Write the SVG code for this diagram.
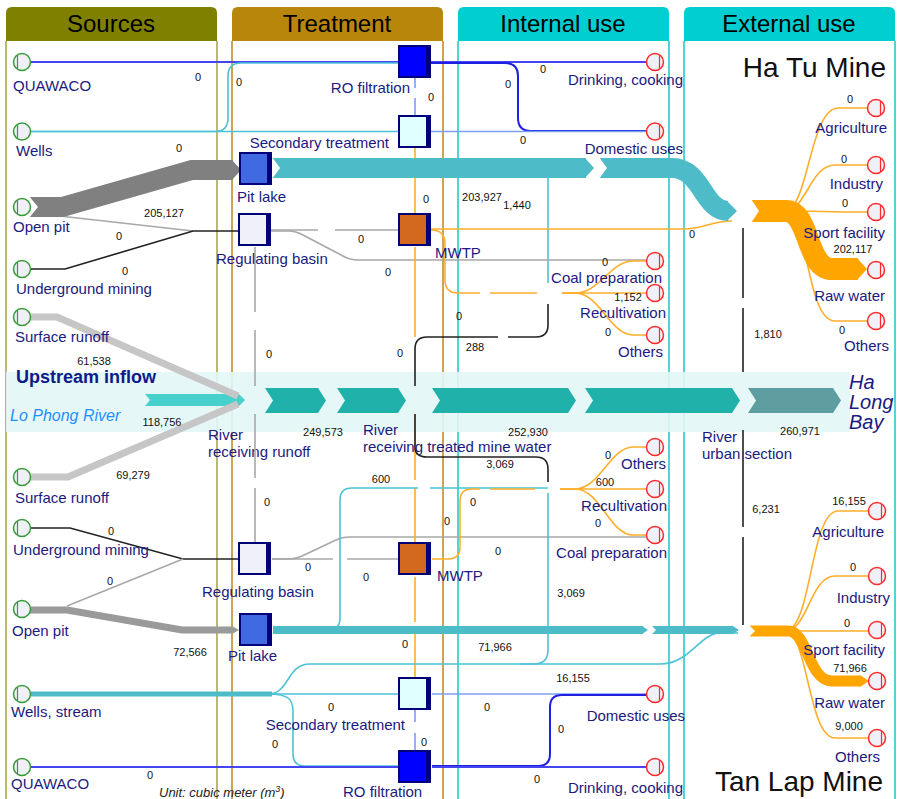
<svg xmlns="http://www.w3.org/2000/svg" width="897" height="799" viewBox="0 0 897 799">
<defs>
<style>
text{font-family:"Liberation Sans",Arial,sans-serif}
.hdr{font-size:24px;fill:#000;text-anchor:middle}
.lbl{font-size:15px;fill:#1a1a80}
.end{text-anchor:end}
.num{font-size:11px;fill:#111;text-anchor:middle}
.mine{font-size:28px;fill:#111;text-anchor:end}
.src circle{fill:#f0f0f8;stroke:#3a9a3a;stroke-width:1.5}
.src line{stroke:#3a9a3a;stroke-width:1.2}
.snk circle{fill:#f0f0f8;stroke:#ff2a2a;stroke-width:1.5}
.snk line{stroke:#ff2a2a;stroke-width:1.2}
.box{stroke:#00007a;stroke-width:2}
.bar{fill:#00007a}
#connectors path{fill:none}
.blue{stroke:#4444f0;stroke-width:2}
.dblue{stroke:#2020e0;stroke-width:2}
.lblue{stroke:#7c9ef2;stroke-width:1.6}
.cyan{stroke:#4cc2d6;stroke-width:1.6}
.org{stroke:#ffae2a;stroke-width:1.6}
.gray{stroke:#a8a8a8;stroke-width:1.6}
.blk{stroke:#222;stroke-width:1.6}
.teal{stroke:#4dbcc8}
.wht{fill:#fff}
.chev{fill:#20b2aa}
</style>
</defs>
<rect width="897" height="799" fill="#fff"/>

<g id="columns">
<path d="M6,41 L6,13 Q6,7 12,7 L211,7 Q217,7 217,13 L217,41 Z" fill="#808000"/>
<path d="M232,41 L232,13 Q232,7 238,7 L437,7 Q443,7 443,13 L443,41 Z" fill="#b8860b"/>
<path d="M458,41 L458,13 Q458,7 464,7 L663,7 Q669,7 669,13 L669,41 Z" fill="#00ced1"/>
<path d="M684,41 L684,13 Q684,7 690,7 L889,7 Q895,7 895,13 L895,41 Z" fill="#00ced1"/>
<g stroke-width="2">
<line x1="6" y1="41" x2="6" y2="799" stroke="#bdb870"/>
<line x1="217" y1="41" x2="217" y2="799" stroke="#bdb870"/>
<line x1="232" y1="41" x2="232" y2="799" stroke="#cda455"/>
<line x1="443" y1="41" x2="443" y2="799" stroke="#cda455"/>
<line x1="458" y1="41" x2="458" y2="799" stroke="#52d4d6"/>
<line x1="669" y1="41" x2="669" y2="799" stroke="#52d4d6"/>
<line x1="684" y1="41" x2="684" y2="799" stroke="#52d4d6"/>
<line x1="895" y1="41" x2="895" y2="799" stroke="#52d4d6"/>
</g>
<text class="hdr" x="111" y="32">Sources</text>
<text class="hdr" x="337" y="32">Treatment</text>
<text class="hdr" x="563" y="32">Internal use</text>
<text class="hdr" x="789" y="32">External use</text>
</g>

<g id="river">
<rect x="6" y="372" width="844" height="60" fill="#e2f6f6" opacity="0.9"/>
<polygon points="145,394 239,394 245,400 239,406 145,406 150,400" fill="#48d1cc"/>
<polygon class="chev" points="265,388 318,388 326,400.5 318,413 265,413 273,400.5"/>
<polygon class="chev" points="337,388 398,388 406,400.5 398,413 337,413 345,400.5"/>
<polygon class="chev" points="432,388 568,388 576,400.5 568,413 432,413 440,400.5"/>
<polygon class="chev" points="585,388 732,388 740,400.5 732,413 585,413 593,400.5"/>
<polygon points="748,388 833,388 841,400.5 833,413 748,413 756,400.5" fill="#5f9ea0"/>
<text x="16" y="383" font-size="18" font-weight="bold" fill="#0c1a8a">Upstream inflow</text>
<text x="10" y="421" font-size="16" font-style="italic" fill="#1e90ff">Lo Phong River</text>
<text x="849" y="389" font-size="20" font-style="italic" fill="#1a1a80">Ha</text>
<text x="849" y="409" font-size="20" font-style="italic" fill="#1a1a80">Long</text>
<text x="849" y="429" font-size="20" font-style="italic" fill="#1a1a80">Bay</text>
<text class="lbl" x="208" y="440">River</text>
<text class="lbl" x="208" y="457">receiving runoff</text>
<text class="lbl" x="363" y="435">River</text>
<text class="lbl" x="363" y="452">receiving treated mine water</text>
<text class="lbl" x="702" y="442">River</text>
<text class="lbl" x="702" y="459">urban section</text>
</g>

<g id="connectors">
<!-- Ha Tu thin lines -->
<path class="blue" d="M30,62 L399,62"/>
<path class="cyan" d="M30,131.5 L215,131.5 Q228,131.5 228,118 L228,76 Q228,63 241,63 L399,63"/>
<path class="cyan" d="M30,131.5 L399,131.5"/>
<path class="blue" d="M431,62 L647,62"/>
<path class="dblue" d="M431,63 L505,63 Q518,63 518,76 L518,118 Q518,131 531,131 L647,131"/>
<path class="lblue" d="M431,131.5 L647,131.5"/>
<path class="lblue" d="M415,78 L415,88 M415,98 L415,116"/>
<path class="org" d="M415,148 L415,214"/>
<path class="cyan" d="M548,178 L548,283"/>
<path class="gray" d="M33,213 L193,231"/>
<path class="blk" d="M30,269 L65,269 L193,231 L238,231"/>
<path class="gray" d="M271,230 L318,230 M335,230 L398,230"/>
<path class="gray" d="M271,231 L288,231 Q296,231 303,235 L343,256 Q350,260 358,260 L647,260"/>
<path class="gray" d="M255,247 L255,312 M255,330 L255,386"/>
<path class="org" d="M415,247 L415,337"/>
<path class="blk" d="M548,304 L548,325 Q548,337 536,337 L508,337 M498,337 L427,337 Q415,337 415,349 L415,386"/>
<path class="org" d="M431,229 L683,229 C705,229 710,221 732,221"/>
<path class="org" d="M431,230 Q445,230 445,244 L445,280 Q445,293 458,293 L480,293 M490,293 L537,293 M562,293 L580,293"/>
<path class="org" stroke-width="3" d="M562,293 L578,293"/>
<path class="org" d="M575,293 C600,293 610,261 633,261 L647,261 M575,293 L647,293 M575,293 C600,293 610,335 633,335 L647,335"/>
<path class="blk" d="M743,228 L743,298 M743,308 L743,372"/>
<path class="org" d="M785,211 C808,211 810,108 838,108 L867,108 M785,211 C806,211 810,165 835,165 L867,165 M785,211 C815,211 830,212 867,212 M785,211 C808,211 806,321 835,321 L867,321"/>
<!-- Ha Tu bands -->
<path d="M30,317 L57,317 L238,396" stroke="#c6c6c6" stroke-width="7"/>
<path d="M30,207 L62,207 L192,170 L233,170" stroke="#808080" stroke-width="20"/>
<polygon points="232,160 241,170 232,180" fill="#808080"/>
<polygon class="wht" points="29,196 38,207 29,218"/>
<path class="teal" d="M273,168 L586,168" stroke-width="20"/>
<polygon points="585,158 594,168 585,178" fill="#4dbcc8"/>
<polygon class="wht" points="272,157 280,168 272,179"/>
<path class="teal" d="M600,168 L672,168 C702,168 703,211 728,211" stroke-width="20"/>
<polygon class="wht" points="599,157 607,168 599,179"/>
<polygon points="727,201 737,211 727,221" fill="#4dbcc8"/>
<path d="M752,211 L786,211 C810,211 806,269 832,269 L858,269" stroke="#ffa500" stroke-width="22"/>
<polygon class="wht" points="751,199 759,211 751,223"/>
<polygon points="857,258 867,269 857,280" fill="#ffa500"/>

<!-- Tan Lap thin lines -->
<path class="blk" d="M30,528 L70,528 L183,559 L238,559"/>
<path class="gray" d="M67,606 L183,559"/>
<path class="gray" d="M255,543 L255,488 M255,478 L255,414"/>
<path class="gray" d="M272,559 L333,559 M347,559 L398,559"/>
<path class="gray" d="M272,559 L290,559 Q296,559 302,556 L336,540 Q342,537 350,537 L647,537"/>
<path class="org" d="M415,543 L415,488 M415,480 L415,414"/>
<path class="blk" d="M415,414 L415,447 Q415,457 427,457 L536,457 Q548,457 548,469 L548,482"/>
<path class="cyan" d="M548,493 L548,650 Q548,664 534,664 L520,664"/>
<path class="cyan" d="M273,630 L328,630 Q340,630 340,618 L340,500 Q340,488 352,488 L418,488 M430,488 L548,488"/>
<path class="org" d="M432,559 L448,559 Q460,559 460,547 L460,501 Q460,489 472,489 L480,489 M490,489 L535,489 M560,489 L580,489"/>
<path class="org" stroke-width="3" d="M560,489 L578,489"/>
<path class="org" d="M575,489 C600,489 610,447 633,447 L647,447 M575,489 L647,489 M575,489 C600,489 610,535 633,535 L647,535"/>
<path class="org" d="M415,577 L415,622 M415,633 L415,678"/>
<path class="lblue" d="M415,710 L415,722 M415,733 L415,751"/>
<path class="cyan" d="M270,694 L398,694"/>
<path class="cyan" d="M268,694 C290,694 286,664 310,664 L660,664 C690,664 700,633 720,633 L738,633"/>
<path class="cyan" d="M268,694 C290,694 293,700 293,712 L293,754 Q293,766 305,766 L399,766"/>
<path class="blue" d="M30,767 L399,767"/>
<path class="lblue" d="M432,694 L647,694"/>
<path class="dblue" d="M432,766 L538,766 Q550,766 550,754 L550,707 Q550,695 562,695 L647,695"/>
<path class="blue" d="M432,767 L647,767"/>
<path class="blk" d="M743,430 L743,527 M743,537 L743,625"/>
<path class="org" d="M785,631 C812,631 810,511 838,511 L868,511 M785,631 C808,631 810,576 835,576 L868,576 M785,631 L868,631 M785,631 C808,631 808,738 835,738 L868,738"/>
<!-- Tan Lap bands -->
<path d="M30,477 L68,477 L238,404" stroke="#c6c6c6" stroke-width="7"/>
<path d="M30,694 L272,694" stroke="#4dbcc8" stroke-width="5"/>
<path d="M30,610 L67,610 L182,630 L233,630" stroke="#9a9a9a" stroke-width="7"/>
<polygon points="232,626 239,630 232,634" fill="#9a9a9a"/>
<path class="teal" d="M273,630 L643,630" stroke-width="8"/>
<polygon points="642,626 648,630 642,634" fill="#4dbcc8"/>
<path class="teal" d="M652,630 L733,630" stroke-width="8"/>
<polygon class="wht" points="651,625 656,630 651,635"/>
<polygon points="732,625.5 739,630 732,634.5" fill="#4dbcc8"/>
<path d="M750,631 L788,631 C808,631 808,681 832,681 L861,681" stroke="#ffa500" stroke-width="11"/>
<polygon class="wht" points="749,625 755,631 749,637"/>
<polygon points="860,675 869,681 860,687" fill="#ffa500"/>
</g>

<!-- Sources -->
<g id="src-quawaco-ht" class="src"><circle cx="22" cy="62" r="8.5"/><line x1="17.5" y1="55" x2="17.5" y2="69"/><text class="lbl" x="13" y="91">QUAWACO</text></g>
<g id="src-wells-ht" class="src"><circle cx="22" cy="131.5" r="8.5"/><line x1="17.5" y1="124.5" x2="17.5" y2="138.5"/><text class="lbl" x="16" y="156">Wells</text></g>
<g id="src-openpit-ht" class="src"><circle cx="22" cy="207" r="8.5"/><line x1="17.5" y1="200" x2="17.5" y2="214"/><text class="lbl" x="13" y="232">Open pit</text></g>
<g id="src-underground-ht" class="src"><circle cx="22" cy="269" r="8.5"/><line x1="17.5" y1="262" x2="17.5" y2="276"/><text class="lbl" x="16" y="294">Underground mining</text></g>
<g id="src-runoff-ht" class="src"><circle cx="22" cy="317" r="8.5"/><line x1="17.5" y1="310" x2="17.5" y2="324"/><text class="lbl" x="15" y="342">Surface runoff</text></g>
<g id="src-runoff-tl" class="src"><circle cx="22" cy="477" r="8.5"/><line x1="17.5" y1="470" x2="17.5" y2="484"/><text class="lbl" x="15" y="503">Surface runoff</text></g>
<g id="src-underground-tl" class="src"><circle cx="22" cy="528" r="8.5"/><line x1="17.5" y1="521" x2="17.5" y2="535"/><text class="lbl" x="13" y="555">Underground mining</text></g>
<g id="src-openpit-tl" class="src"><circle cx="22" cy="609" r="8.5"/><line x1="17.5" y1="602" x2="17.5" y2="616"/><text class="lbl" x="12" y="636">Open pit</text></g>
<g id="src-wells-tl" class="src"><circle cx="22" cy="694" r="8.5"/><line x1="17.5" y1="687" x2="17.5" y2="701"/><text class="lbl" x="11" y="717">Wells, stream</text></g>
<g id="src-quawaco-tl" class="src"><circle cx="22" cy="767" r="8.5"/><line x1="17.5" y1="760" x2="17.5" y2="774"/><text class="lbl" x="11" y="789">QUAWACO</text></g>

<!-- Treatment -->
<g id="tr-ro-ht"><rect class="box" x="399" y="46" width="31" height="31" fill="#0000ff"/><rect class="bar" x="426" y="46" width="4" height="31"/><text class="lbl end" x="410" y="93">RO filtration</text></g>
<g id="tr-sec-ht"><rect class="box" x="399" y="116" width="31" height="31" fill="#e0ffff"/><rect class="bar" x="426" y="116" width="4" height="31"/><text class="lbl end" x="389" y="148">Secondary treatment</text></g>
<g id="tr-pit-ht"><rect class="box" x="240" y="153" width="31" height="31" fill="#4169e1"/><rect class="bar" x="267" y="153" width="4" height="31"/><text class="lbl" x="237" y="202">Pit lake</text></g>
<g id="tr-reg-ht"><rect class="box" x="239" y="214" width="31" height="31" fill="#f0f0fa"/><rect class="bar" x="266" y="214" width="4" height="31"/><text class="lbl" x="216" y="264">Regulating basin</text></g>
<g id="tr-mwtp-ht"><rect class="box" x="399" y="214" width="31" height="31" fill="#d2691e"/><rect class="bar" x="426" y="214" width="4" height="31"/><text class="lbl" x="435" y="258">MWTP</text></g>
<g id="tr-reg-tl"><rect class="box" x="239" y="543" width="31" height="31" fill="#f0f0fa"/><rect class="bar" x="266" y="543" width="4" height="31"/><text class="lbl" x="202" y="597">Regulating basin</text></g>
<g id="tr-mwtp-tl"><rect class="box" x="399" y="543" width="31" height="31" fill="#d2691e"/><rect class="bar" x="426" y="543" width="4" height="31"/><text class="lbl" x="437" y="581">MWTP</text></g>
<g id="tr-pit-tl"><rect class="box" x="240" y="614" width="31" height="31" fill="#4169e1"/><rect class="bar" x="267" y="614" width="4" height="31"/><text class="lbl" x="228" y="661">Pit lake</text></g>
<g id="tr-sec-tl"><rect class="box" x="399" y="678" width="31" height="31" fill="#e0ffff"/><rect class="bar" x="426" y="678" width="4" height="31"/><text class="lbl end" x="405" y="730">Secondary treatment</text></g>
<g id="tr-ro-tl"><rect class="box" x="399" y="751" width="31" height="31" fill="#0000ff"/><rect class="bar" x="426" y="751" width="4" height="31"/><text class="lbl" x="343" y="797">RO filtration</text></g>

<!-- Sinks -->
<g id="snk-drink-ht" class="snk"><circle cx="655" cy="62" r="8.5"/><line x1="659.5" y1="55" x2="659.5" y2="69"/><text class="lbl end" x="683" y="85">Drinking, cooking</text></g>
<g id="snk-domestic-ht" class="snk"><circle cx="655" cy="131.5" r="8.5"/><line x1="659.5" y1="124.5" x2="659.5" y2="138.5"/><text class="lbl end" x="683" y="154">Domestic uses</text></g>
<g id="snk-coal-ht" class="snk"><circle cx="655" cy="261" r="8.5"/><line x1="659.5" y1="254" x2="659.5" y2="268"/><text class="lbl end" x="662" y="283">Coal preparation</text></g>
<g id="snk-recult-ht" class="snk"><circle cx="655" cy="293" r="8.5"/><line x1="659.5" y1="286" x2="659.5" y2="300"/><text class="lbl end" x="666" y="318">Recultivation</text></g>
<g id="snk-others-ht" class="snk"><circle cx="655" cy="335" r="8.5"/><line x1="659.5" y1="328" x2="659.5" y2="342"/><text class="lbl end" x="663" y="357">Others</text></g>
<g id="snk-agri-ht" class="snk"><circle cx="876" cy="108" r="8.5"/><line x1="880.5" y1="101" x2="880.5" y2="115"/><text class="lbl end" x="887" y="133">Agriculture</text></g>
<g id="snk-ind-ht" class="snk"><circle cx="876" cy="165" r="8.5"/><line x1="880.5" y1="158" x2="880.5" y2="172"/><text class="lbl end" x="883" y="189">Industry</text></g>
<g id="snk-sport-ht" class="snk"><circle cx="876" cy="212" r="8.5"/><line x1="880.5" y1="205" x2="880.5" y2="219"/><text class="lbl end" x="885" y="238">Sport facility</text></g>
<g id="snk-raw-ht" class="snk"><circle cx="876" cy="270" r="8.5"/><line x1="880.5" y1="263" x2="880.5" y2="277"/><text class="lbl end" x="885" y="301">Raw water</text></g>
<g id="snk-others2-ht" class="snk"><circle cx="876" cy="321" r="8.5"/><line x1="880.5" y1="314" x2="880.5" y2="328"/><text class="lbl end" x="889" y="351">Others</text></g>
<g id="snk-others-tl" class="snk"><circle cx="655" cy="447" r="8.5"/><line x1="659.5" y1="440" x2="659.5" y2="454"/><text class="lbl end" x="666" y="469">Others</text></g>
<g id="snk-recult-tl" class="snk"><circle cx="655" cy="489" r="8.5"/><line x1="659.5" y1="482" x2="659.5" y2="496"/><text class="lbl end" x="667" y="511">Recultivation</text></g>
<g id="snk-coal-tl" class="snk"><circle cx="655" cy="535" r="8.5"/><line x1="659.5" y1="528" x2="659.5" y2="542"/><text class="lbl end" x="667" y="558">Coal preparation</text></g>
<g id="snk-domestic-tl" class="snk"><circle cx="655" cy="694" r="8.5"/><line x1="659.5" y1="687" x2="659.5" y2="701"/><text class="lbl end" x="685" y="721">Domestic uses</text></g>
<g id="snk-drink-tl" class="snk"><circle cx="655" cy="767" r="8.5"/><line x1="659.5" y1="760" x2="659.5" y2="774"/><text class="lbl end" x="683" y="793">Drinking, cooking</text></g>
<g id="snk-agri-tl" class="snk"><circle cx="877" cy="511" r="8.5"/><line x1="881.5" y1="504" x2="881.5" y2="518"/><text class="lbl end" x="884" y="537">Agriculture</text></g>
<g id="snk-ind-tl" class="snk"><circle cx="877" cy="576" r="8.5"/><line x1="881.5" y1="569" x2="881.5" y2="583"/><text class="lbl end" x="890" y="603">Industry</text></g>
<g id="snk-sport-tl" class="snk"><circle cx="877" cy="630" r="8.5"/><line x1="881.5" y1="623" x2="881.5" y2="637"/><text class="lbl end" x="885" y="655">Sport facility</text></g>
<g id="snk-raw-tl" class="snk"><circle cx="877" cy="681" r="8.5"/><line x1="881.5" y1="674" x2="881.5" y2="688"/><text class="lbl end" x="885" y="708">Raw water</text></g>
<g id="snk-others2-tl" class="snk"><circle cx="877" cy="738" r="8.5"/><line x1="881.5" y1="731" x2="881.5" y2="745"/><text class="lbl end" x="880" y="762">Others</text></g>

<g id="values">
<text class="num" x="198" y="81">0</text>
<text class="num" x="239" y="86">0</text>
<text class="num" x="179" y="152">0</text>
<text class="num" x="543" y="73">0</text>
<text class="num" x="508" y="88">0</text>
<text class="num" x="431" y="101">0</text>
<text class="num" x="523" y="144">0</text>
<text class="num" x="426" y="203">0</text>
<text class="num" x="482" y="201">203,927</text>
<text class="num" x="517" y="209">1,440</text>
<text class="num" x="164" y="217">205,127</text>
<text class="num" x="119" y="240">0</text>
<text class="num" x="125" y="275">0</text>
<text class="num" x="361" y="243">0</text>
<text class="num" x="388" y="276">0</text>
<text class="num" x="692" y="238">0</text>
<text class="num" x="605" y="266">0</text>
<text class="num" x="628" y="301">1,152</text>
<text class="num" x="608" y="336">0</text>
<text class="num" x="459" y="320">0</text>
<text class="num" x="475" y="351">288</text>
<text class="num" x="400" y="357">0</text>
<text class="num" x="269" y="358">0</text>
<text class="num" x="94" y="365">61,538</text>
<text class="num" x="768" y="338">1,810</text>
<text class="num" x="850" y="103">0</text>
<text class="num" x="844" y="163">0</text>
<text class="num" x="845" y="207">0</text>
<text class="num" x="853" y="253">202,117</text>
<text class="num" x="842" y="334">0</text>
<text class="num" x="162" y="426">118,756</text>
<text class="num" x="323" y="436">249,573</text>
<text class="num" x="528" y="436">252,930</text>
<text class="num" x="800" y="435">260,971</text>
<text class="num" x="500" y="468">3,069</text>
<text class="num" x="381" y="483">600</text>
<text class="num" x="608" y="459">0</text>
<text class="num" x="605" y="486">600</text>
<text class="num" x="598" y="527">0</text>
<text class="num" x="473" y="506">0</text>
<text class="num" x="447" y="525">0</text>
<text class="num" x="498" y="555">0</text>
<text class="num" x="308" y="571">0</text>
<text class="num" x="366" y="581">0</text>
<text class="num" x="267" y="506">0</text>
<text class="num" x="133" y="479">69,279</text>
<text class="num" x="111" y="535">0</text>
<text class="num" x="110" y="585">0</text>
<text class="num" x="571" y="597">3,069</text>
<text class="num" x="766" y="513">6,231</text>
<text class="num" x="849" y="505">16,155</text>
<text class="num" x="853" y="571">0</text>
<text class="num" x="847" y="627">0</text>
<text class="num" x="850" y="672">71,966</text>
<text class="num" x="849" y="730">9,000</text>
<text class="num" x="190" y="656">72,566</text>
<text class="num" x="405" y="648">0</text>
<text class="num" x="495" y="651">71,966</text>
<text class="num" x="573" y="682">16,155</text>
<text class="num" x="331" y="711">0</text>
<text class="num" x="487" y="711">0</text>
<text class="num" x="561" y="733">0</text>
<text class="num" x="424" y="746">0</text>
<text class="num" x="275" y="748">0</text>
<text class="num" x="150" y="779">0</text>
<text class="num" x="537" y="783">0</text>
</g>

<text class="mine" x="886" y="77">Ha Tu Mine</text>
<text class="mine" x="883" y="791">Tan Lap Mine</text>
<text x="159" y="797" font-size="13" font-style="italic" fill="#222">Unit: cubic meter (m<tspan font-size="9" dy="-5">3</tspan><tspan dy="5">)</tspan></text>
</svg>
